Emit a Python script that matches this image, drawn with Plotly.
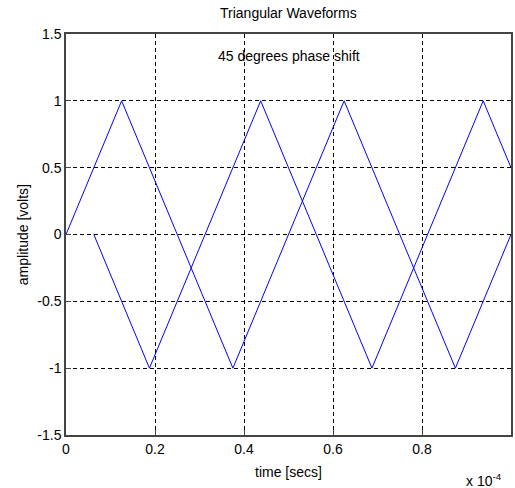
import plotly.graph_objects as go

# time in units of 1e-4 s
t_wave1 = [0, 0.125, 0.375, 0.625, 0.875, 1.0]
v_wave1 = [0, 1, -1, 1, -1, 0]
t_wave2 = [0.0625, 0.1875, 0.4375, 0.6875, 0.9375, 1.0]
v_wave2 = [0, -1, 1, -1, 1, 0.5]

x_ticks = [0, 0.2, 0.4, 0.6, 0.8, 1]
x_ticklabels = ["0", "0.2", "0.4", "0.6", "0.8", "1"]
y_ticks = [-1.5, -1, -0.5, 0, 0.5, 1, 1.5]
y_ticklabels = ["-1.5", "-1", "-0.5", "0", "0.5", "1", "1.5"]

FONT = "Liberation Sans, Arial, sans-serif"
L, R, T, B = 66, 2, 34, 53
W, H = 515, 488
pw, ph = W - L - R, H - T - B

fig = go.Figure()
for tx, vy in [(t_wave1, v_wave1), (t_wave2, v_wave2)]:
    fig.add_trace(go.Scatter(x=tx, y=vy, mode="lines",
                             line=dict(color="#0000ff", width=1),
                             showlegend=False, hoverinfo="skip"))

axis_common = dict(
    showline=True, linecolor="#444444", linewidth=1.5, mirror=True,
    ticks="inside", ticklen=5, tickcolor="#444444",
    showgrid=True, gridcolor="#000000", gridwidth=1, griddash="4px,3px",
    zeroline=False, tickfont=dict(family=FONT, size=14, color="#000"),
)
fig.update_xaxes(range=[0, 1], tickvals=x_ticks, ticktext=x_ticklabels, **axis_common)
fig.update_yaxes(range=[-1.5, 1.5], tickvals=y_ticks, ticktext=y_ticklabels, **axis_common)

def px_x(p):
    return (p - L) / pw
def px_y(p):
    return (H - B - p) / ph

ann = [
    dict(text="Triangular Waveforms", x=0.5, y=px_y(13), xanchor="center", yanchor="middle"),
    dict(text="time [secs]", x=px_x(290), y=px_y(472), xanchor="center", yanchor="middle"),
    dict(text="amplitude [volts]", x=px_x(23), y=px_y(235), xanchor="center", yanchor="middle", textangle=-90),
    dict(text="x 10<sup>-4</sup>", x=px_x(466), y=px_y(480), xanchor="left", yanchor="middle"),
]
annotations = []
for a in ann:
    a.update(xref="paper", yref="paper", showarrow=False,
             font=dict(family=FONT, size=14, color="#000"))
    annotations.append(a)
annotations.append(dict(text="45 degrees phase shift", x=0.337, y=1.334, xref="x", yref="y",
                        xanchor="left", yanchor="middle", showarrow=False,
                        font=dict(family=FONT, size=14, color="#000")))

fig.update_layout(
    width=W, height=H, margin=dict(l=L, r=R, t=T, b=B),
    paper_bgcolor="white", plot_bgcolor="white",
    annotations=annotations,
)
fig.write_html("out.html")
